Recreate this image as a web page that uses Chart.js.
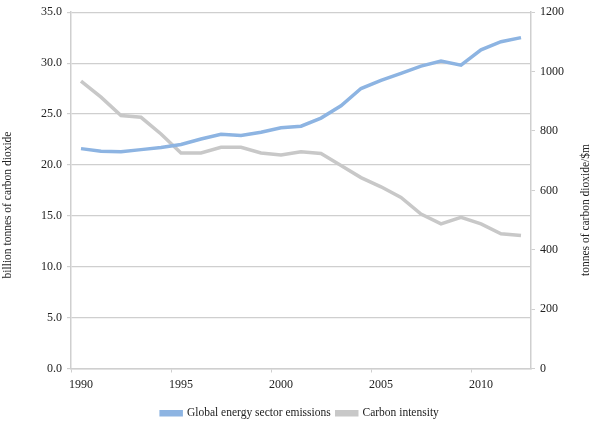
<!DOCTYPE html>
<html>
<head>
<meta charset="utf-8">
<script src="https://cdn.jsdelivr.net/npm/chart.js@4"></script>
<style>
  html, body { margin: 0; padding: 0; background: #fff; }
  #wrap { width: 600px; height: 426px; }
</style>
</head>
<body>
<div id="wrap"><canvas id="chart"></canvas></div>
<script>
const years = [1990, 1991, 1992, 1993, 1994, 1995, 1996, 1997, 1998, 1999, 2000, 2001,
               2002, 2003, 2004, 2005, 2006, 2007, 2008, 2009, 2010, 2011, 2012];
// billion tonnes CO2 (left axis)
const emissions = [21.6, 21.35, 21.3, 21.5, 21.7, 22.0, 22.55, 23.0, 22.9, 23.2, 23.65, 23.8,
                   24.6, 25.8, 27.5, 28.3, 29.0, 29.7, 30.2, 29.8, 31.3, 32.1, 32.5];
// tonnes CO2 per $m (right axis)
const intensity = [968, 914, 852, 846, 790, 726, 726, 745, 745, 726, 719, 730,
                   724, 684, 643, 612, 576, 520, 487, 509, 487, 454, 448];

const leftTitle = 'billion tonnes of carbon dioxide';
const rightTitle = 'tonnes of carbon dioxide/$m';

const serif = '"Liberation Serif", "DejaVu Serif", serif';
const gridColor = '#cfcfcf';

// both axis titles read bottom-to-top, so draw them ourselves
const axisTitles = {
    id: 'axisTitles',
    afterLayout(chart) {
        // nudge legend a little lower, like the original
        chart.legend.top += 3;
        chart.legend.bottom += 3;
    },
    afterDraw(chart) {
        const ctx = chart.ctx;
        const draw = (text, x, y) => {
            ctx.save();
            ctx.translate(x, y);
            ctx.rotate(-Math.PI / 2);
            ctx.font = '11.5px ' + serif;
            ctx.fillStyle = '#222';
            ctx.textAlign = 'center';
            ctx.textBaseline = 'middle';
            ctx.fillText(text, 0, 0);
            ctx.restore();
        };
        draw(leftTitle, 8, 205);
        draw(rightTitle, 586, 210);
    }
};

new Chart(document.getElementById('chart'), {
    type: 'line',
    data: {
        labels: years,
        datasets: [
            {
                label: 'Global energy sector emissions',
                data: emissions,
                yAxisID: 'y',
                borderColor: '#8db4e2',
                backgroundColor: '#8db4e2',
                borderWidth: 3.5,
                pointRadius: 0,
                tension: 0
            },
            {
                label: 'Carbon intensity',
                data: intensity,
                yAxisID: 'y1',
                borderColor: '#c8c8c8',
                backgroundColor: '#c8c8c8',
                borderWidth: 3.5,
                pointRadius: 0,
                tension: 0
            }
        ]
    },
    options: {
        responsive: true,
        maintainAspectRatio: false,
        animation: false,
        layout: { padding: { top: 10, bottom: 0, left: 0, right: 0 } },
        plugins: {
            tooltip: { enabled: false },
            legend: {
                position: 'bottom',
                labels: {
                    boxWidth: 20,
                    boxHeight: 3,
                    padding: 6,
                    color: '#222',
                    font: { family: serif, size: 11.5 }
                }
            }
        },
        scales: {
            x: {
                type: 'category',
                offset: true,
                grid: {
                    offset: true,
                    drawOnChartArea: false,
                    drawTicks: true,
                    tickLength: 4,
                    color: c => (c.index % 5 === 0 ? gridColor : 'rgba(0,0,0,0)')
                },
                border: { color: gridColor, width: 1.5 },
                ticks: {
                    autoSkip: false,
                    maxRotation: 0,
                    padding: 5,
                    color: '#222',
                    font: { family: serif, size: 12 },
                    callback: function (v, i) {
                        return years[i] % 5 === 0 ? String(years[i]) : '';
                    }
                },
                afterFit(scale) { scale.height = 30; }
            },
            y: {
                position: 'left',
                min: 0,
                max: 35,
                grid: { color: gridColor, lineWidth: 1.2, tickLength: 4 },
                border: { color: gridColor, width: 1.5 },
                ticks: {
                    stepSize: 5,
                    padding: 5,
                    color: '#222',
                    font: { family: serif, size: 12 },
                    callback: v => v.toFixed(1)
                },
                afterFit(scale) { scale.width = 71; }
            },
            y1: {
                position: 'right',
                min: 0,
                max: 1200,
                grid: { drawOnChartArea: false, color: gridColor, tickLength: 4 },
                border: { color: gridColor, width: 1.5 },
                ticks: {
                    stepSize: 200,
                    padding: 5,
                    color: '#222',
                    font: { family: serif, size: 12 },
                    callback: v => String(v)
                },
                afterFit(scale) { scale.width = 69; }
            }
        }
    },
    plugins: [axisTitles]
});
</script>
</body>
</html>
